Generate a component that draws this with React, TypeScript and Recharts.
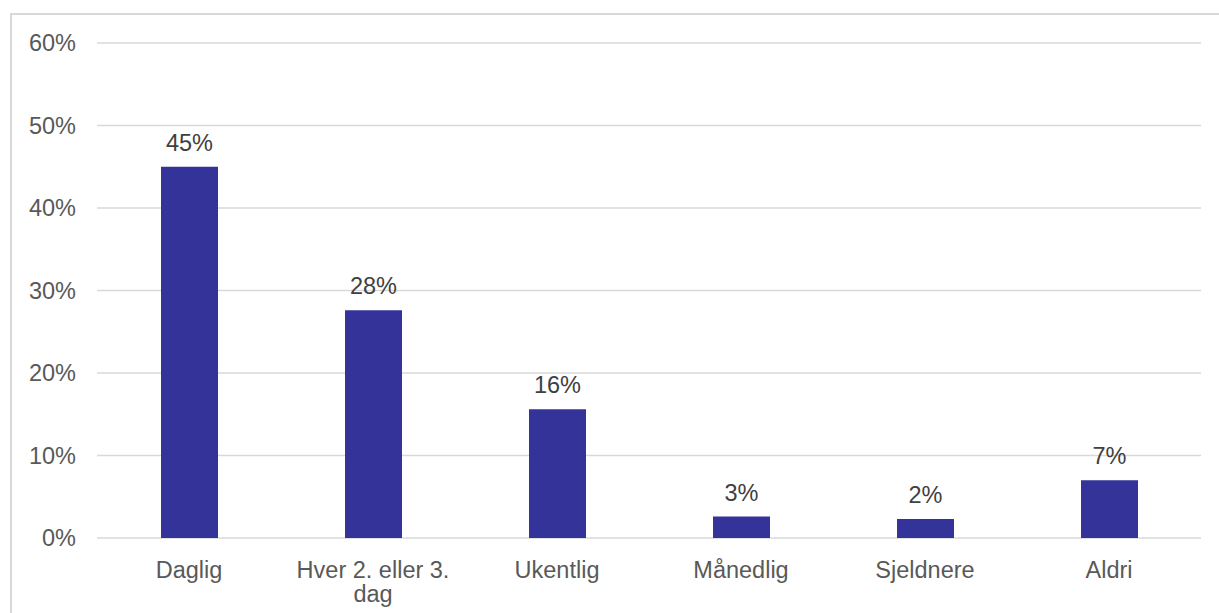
import React from 'react';
import { BarChart, Bar, XAxis, YAxis, CartesianGrid, LabelList } from 'recharts';

const categories = ['Daglig', 'Hver 2. eller 3. dag', 'Ukentlig', 'Månedlig', 'Sjeldnere', 'Aldri'];
const shares = [45, 27.6, 15.6, 2.6, 2.3, 7.0];
const yTicks = [0, 10, 20, 30, 40, 50, 60];

const data = categories.map((name, i) => ({ name, value: shares[i] }));

const FONT = '"Liberation Sans", Arial, sans-serif';

// greedy word wrap, about what fits under one bar slot
const wrap = (s: string, maxChars = 16) => {
  const lines: string[] = [];
  let cur = '';
  s.split(' ').forEach((w) => {
    const next = cur ? `${cur} ${w}` : w;
    if (next.length > maxChars && cur) {
      lines.push(cur);
      cur = w;
    } else {
      cur = next;
    }
  });
  if (cur) lines.push(cur);
  return lines;
};

const CategoryTick = (props: any) => {
  const { x, y, payload } = props;
  const lines = wrap(String(payload.value));
  return (
    <text
      x={x}
      y={y}
      textAnchor="middle"
      fontSize={23.5}
      fontFamily={FONT}
      fill="#595959"
    >
      {lines.map((l, i) => (
        <tspan key={i} x={x} dy={i === 0 ? '0.71em' : 24}>
          {l}
        </tspan>
      ))}
    </text>
  );
};

export default function App() {
  return (
    <div
      style={{
        position: 'absolute',
        top: 0,
        left: 0,
        width: 1219,
        height: 613,
        overflow: 'hidden',
        background: '#fff',
      }}
    >
      <div
        style={{
          position: 'absolute',
          left: 10,
          top: 13,
          width: 1260,
          height: 660,
          border: '2px solid #d9d9d9',
        }}
      />
      <div style={{ position: 'absolute', left: 0, top: 0 }}>
        <BarChart
          width={1219}
          height={613}
          data={data}
          margin={{ top: 43, right: 18, bottom: 0, left: 0 }}
        >
          <CartesianGrid vertical={false} stroke="#d9d9d9" strokeWidth={1.5} />
          <XAxis
            dataKey="name"
            height={75}
            axisLine={false}
            tickLine={false}
            tickMargin={17}
            interval={0}
            tick={<CategoryTick />}
          />
          <YAxis
            width={97}
            domain={[0, 60]}
            ticks={yTicks}
            axisLine={false}
            tickLine={false}
            tickMargin={15}
            tickFormatter={(v: number) => `${v}%`}
            tick={{ fontSize: 23.5, fill: '#595959', fontFamily: FONT }}
          />
          <Bar dataKey="value" fill="#333399" barSize={57} isAnimationActive={false}>
            <LabelList
              dataKey="value"
              position="top"
              offset={16}
              formatter={(v: any) => `${Math.round(Number(v))}%`}
              style={{ fontSize: 23.5, fill: '#404040', fontFamily: FONT }}
            />
          </Bar>
        </BarChart>
      </div>
    </div>
  );
}
